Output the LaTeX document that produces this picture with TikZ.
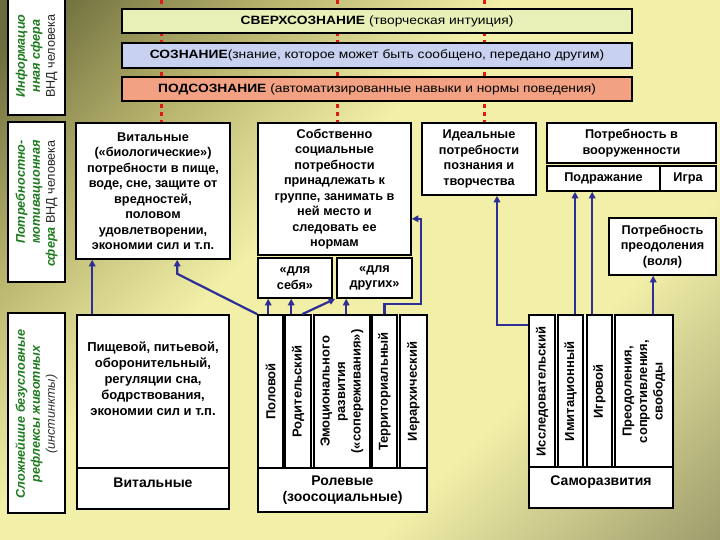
\documentclass[tikz,border=0pt]{standalone}
\usepackage{fontspec}
\setmainfont{Liberation Sans}
\newfontfamily\barfont[FakeStretch=1.15]{Liberation Sans}
\usetikzlibrary{arrows.meta,calc}
\definecolor{bgdark}{RGB}{108,108,60}
\definecolor{bgkhaki}{RGB}{184,180,110}
\definecolor{bglight}{RGB}{242,240,168}
\definecolor{bgbr}{RGB}{156,154,106}
\definecolor{barA}{RGB}{232,240,184}
\definecolor{barB}{RGB}{200,210,240}
\definecolor{barC}{RGB}{242,162,130}
\definecolor{arrblue}{RGB}{46,46,150}
\definecolor{labgreen}{RGB}{28,122,28}
\definecolor{dotred}{RGB}{226,24,24}
\pgfdeclarehorizontalshading{bgshade}{100bp}{color(0bp)=(bgdark); color(17bp)=(bgdark); color(30bp)=(bgkhaki); color(43bp)=(bglight); color(66bp)=(bglight); color(86bp)=(bgbr); color(100bp)=(bgbr)}
\tikzset{
  wbox/.style={draw=black, line width=1.6pt, fill=white, inner sep=0pt},
  btxt/.style={font=\bfseries\fontsize{12.7}{15.5}\selectfont, align=center, inner sep=0pt},
  ctxt/.style={font=\bfseries\fontsize{13}{15.5}\selectfont, align=center, inner sep=0pt, rotate=90},
  captxt/.style={font=\bfseries\fontsize{14}{16}\selectfont, align=center, inner sep=0pt},
  bartxt/.style={font=\barfont\fontsize{12}{13}\selectfont, inner sep=0pt},
  barbox/.style={draw=black, line width=1.6pt, minimum width=510pt},
  labtxt/.style={font=\bfseries\itshape\fontsize{12.6}{15}\selectfont, text=labgreen, inner sep=0pt, rotate=90},
  arr/.style={draw=arrblue, line width=2.2pt, -{Triangle[length=6.5pt,width=6.5pt]}},
  reddash/.style={draw=dotred, line width=3pt, dash pattern=on 4pt off 4pt},
}
\newcommand{\vndtext}{{\mdseries\upshape\color{black!85}ВНД человека}}
\begin{document}
\begin{tikzpicture}[x=1pt,y=-1pt]
\useasboundingbox (0,0) rectangle (720,540);
\shade[shading=bgshade, shading angle=-45] (0,0) rectangle (720,540);
% red dotted links
\coordinate (r1t) at (161,0); \coordinate (r1b) at (161,123);
\coordinate (r2t) at (337,0); \coordinate (r2b) at (337,123);
\coordinate (r3t) at (484,0); \coordinate (r3b) at (484,123);
\draw[reddash] (r1t) -- (r1b);
\draw[reddash] (r2t) -- (r2b);
\draw[reddash] (r3t) -- (r3b);
% bars
\node[barbox, fill=barA, minimum height=24pt, bartxt] (sverh) at (377,21) {\textbf{СВЕРХСОЗНАНИЕ} (творческая интуиция)};
\node[barbox, fill=barB, minimum height=25pt, bartxt] (soz) at (377,55.5) {\textbf{СОЗНАНИЕ}(знание, которое может быть сообщено, передано другим)};
\node[barbox, fill=barC, minimum height=24pt, bartxt] (podsoz) at (377,89) {\textbf{ПОДСОЗНАНИЕ} (автоматизированные навыки и нормы поведения)};
% left labels
\node[wbox, minimum width=57pt, minimum height=118pt] (lab1) at (36.5,56) {};
\node[labtxt, align=center] (lab1t) at (lab1.center) {Информацио\\нная сфера\\\vndtext};
\node[wbox, minimum width=57pt, minimum height=160pt] (lab2) at (36.5,202) {};
\node[labtxt, align=right, anchor=east] (lab2t) at (36.5,140) {Потребностно-\\мотивационная\\сфера \vndtext};
\node[wbox, minimum width=57pt, minimum height=200pt] (lab3) at (36.5,413) {};
\node[labtxt, align=center] (lab3t) at (36.5,414) {Сложнейшие безусловные\\рефлексы животных\\{\mdseries\color{black!80}(инстинкты)}};
% need boxes
\node[wbox, btxt, minimum width=154pt, minimum height=136pt] (vital) at (153,191) {Витальные\\(«биологические»)\\потребности в пище,\\воде, сне, защите от\\вредностей,\\половом\\удовлетворении,\\экономии сил и т.п.};
\node[wbox, btxt, minimum width=153pt, minimum height=132pt] (social) at (334.5,189) {Собственно\\социальные\\потребности\\принадлежать к\\группе, занимать в\\ней место и\\следовать ее\\нормам};
\node[wbox, btxt, minimum width=74pt, minimum height=40pt] (sebya) at (295,278) {«для\\себя»};
\node[wbox, btxt, minimum width=75pt, minimum height=40pt] (drugih) at (374.5,278) {«для\\других»};
\node[wbox, btxt, minimum width=114pt, minimum height=72pt] (ideal) at (479,159) {Идеальные\\потребности\\познания и\\творчества};
\node[wbox, btxt, minimum width=169pt, minimum height=40pt] (vooruzh) at (631.5,143) {Потребность в\\вооруженности};
\node[wbox, btxt, minimum width=113pt, minimum height=25pt] (podrazh) at (603.5,178.5) {Подражание};
\node[wbox, btxt, minimum width=56pt, minimum height=25pt] (igra) at (688,178.5) {Игра};
\node[wbox, btxt, minimum width=107pt, minimum height=57pt] (preodV) at (662.5,246.5) {Потребность\\преодоления\\(воля)};
% instinct boxes
\node[wbox, minimum width=152pt, minimum height=153pt] (pish) at (153,391.5) {};
\node[btxt, font=\bfseries\fontsize{13}{16}\selectfont] (pishT) at (153,379) {Пищевой, питьевой,\\оборонительный,\\регуляции сна,\\бодрствования,\\экономии сил и т.п.};
\node[wbox, minimum width=152pt, minimum height=41pt] (vitB) at (153,488.5) {};
\node[captxt] (vitBT) at (153,483) {Витальные};
\fill[white] (258,315) rectangle (427,468);
\fill[white] (529,315) rectangle (673,468);
\node[wbox, minimum width=25pt, minimum height=153pt] (pol) at (270.5,391.5) {};
\node[ctxt] (polT) at (pol.center) {Половой};
\node[wbox, minimum width=26pt, minimum height=153pt] (rod) at (298,391.5) {};
\node[ctxt] (rodT) at (rod.center) {Родительский};
\node[wbox, minimum width=56pt, minimum height=153pt] (emo) at (342,391.5) {};
\node[ctxt] (emoT) at (emo.center) {Эмоционального\\развития\\(«сопереживания»)};
\node[wbox, minimum width=25pt, minimum height=153pt] (terr) at (384.5,391.5) {};
\node[ctxt] (terrT) at (terr.center) {Территориальный};
\node[wbox, minimum width=27pt, minimum height=153pt] (ier) at (413.5,391.5) {};
\node[ctxt] (ierT) at (ier.center) {Иерархический};
\node[wbox, captxt, minimum width=169pt, minimum height=44pt] (rolB) at (342.5,490) {Ролевые\\(зоосоциальные)};
\node[wbox, minimum width=26pt, minimum height=153pt] (iss) at (542,391.5) {};
\node[ctxt] (issT) at (iss.center) {Исследовательский};
\node[wbox, minimum width=25pt, minimum height=153pt] (imit) at (570.5,391.5) {};
\node[ctxt] (imitT) at (imit.center) {Имитационный};
\node[wbox, minimum width=25pt, minimum height=153pt] (igr) at (599.5,391.5) {};
\node[ctxt] (igrT) at (igr.center) {Игровой};
\node[wbox, minimum width=58pt, minimum height=153pt] (preodC) at (644,391.5) {};
\node[ctxt] (preodCT) at (preodC.center) {Преодоления,\\сопротивления,\\свободы};
\node[wbox, minimum width=144pt, minimum height=41pt] (samB) at (601,487.5) {};
\node[captxt] (samBT) at (601,482) {Саморазвития};
% connectors
\coordinate (k1) at ($(pish.north west)+(16,0)$);
\draw[arr] (k1) -- (k1 |- vital.south);
\coordinate (k2) at ($(vital.south west)+(102,14)$);
\draw[arr] (pol.north west) -- (k2) -- (k2 |- vital.south);
\coordinate (k3) at ($(pol.north west)+(11,0)$);
\draw[arr] (k3) -- (k3 |- sebya.south);
\coordinate (k4) at ($(rod.north west)+(7,0)$);
\draw[arr] (k4) -- (k4 |- sebya.south);
\coordinate (k5) at ($(rod.north west)+(18,0)$);
\coordinate (k5e) at ($(drugih.south west)+(-1,0)$);
\draw[arr] (k5) -- (k5e);
\coordinate (k6) at ($(emo.north west)+(33,0)$);
\draw[arr] (k6) -- (k6 |- drugih.south);
\coordinate (k7) at ($(terr.north)+(0,-10)$);
\coordinate (k7b) at (ideal.west |- k7);
\coordinate (k7c) at ($(social.south east)+(0,-37)$);
\draw[arr] (terr.north) -- (k7) -- (k7b) -- (k7b |- k7c) -- (k7c);
\coordinate (k8) at ($(iss.north west)+(0,11)$);
\coordinate (k8b) at ($(ideal.south)+(18,0)$);
\draw[arr] (k8) -- (k8b |- k8) -- (k8b);
\coordinate (k9) at ($(imit.north)+(4.5,0)$);
\draw[arr] (k9) -- (k9 |- podrazh.south);
\coordinate (k10) at ($(igr.north west)+(6,0)$);
\draw[arr] (k10) -- (k10 |- podrazh.south);
\coordinate (k11) at ($(preodC.north west)+(39,0)$);
\draw[arr] (k11) -- (k11 |- preodV.south);
\end{tikzpicture}
\end{document}
